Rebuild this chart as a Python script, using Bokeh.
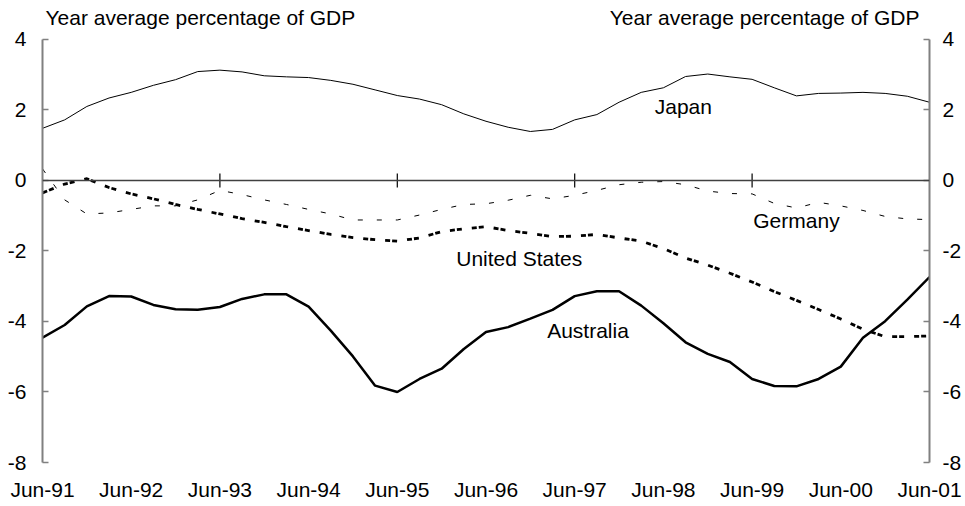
from bokeh.plotting import figure
from bokeh.models import Range1d, LinearAxis, FixedTicker, Label, Span
from bokeh.embed import file_html
from bokeh.resources import INLINE

# Quarterly observations, Jun-91 .. Jun-01 (41 quarters)
quarters = list(range(41))
tick_labels = ["Jun-91", "Jun-92", "Jun-93", "Jun-94", "Jun-95", "Jun-96",
               "Jun-97", "Jun-98", "Jun-99", "Jun-00", "Jun-01"]
zero_line_ticks = [8, 16, 24, 32]   # Jun-93, Jun-95, Jun-97, Jun-99

japan = [1.48, 1.72, 2.10, 2.34, 2.50, 2.70, 2.86, 3.09, 3.13, 3.08, 2.97,
         2.94, 2.92, 2.84, 2.73, 2.57, 2.41, 2.31, 2.15, 1.89, 1.68, 1.51,
         1.39, 1.45, 1.72, 1.87, 2.22, 2.50, 2.63, 2.95, 3.02, 2.94, 2.87,
         2.63, 2.40, 2.47, 2.48, 2.50, 2.47, 2.39, 2.22]
germany = [0.33, -0.55, -0.95, -0.92, -0.82, -0.72, -0.72, -0.55, -0.28, -0.40,
           -0.55, -0.68, -0.82, -0.95, -1.12, -1.12, -1.12, -0.98, -0.82, -0.68,
           -0.66, -0.56, -0.42, -0.52, -0.42, -0.28, -0.12, -0.05, -0.03, -0.12,
           -0.30, -0.37, -0.38, -0.65, -0.78, -0.62, -0.72, -0.85, -1.02, -1.09,
           -1.11]
united_states = [-0.35, -0.10, 0.05, -0.20, -0.38, -0.52, -0.68, -0.82, -0.95,
                 -1.08, -1.19, -1.31, -1.42, -1.53, -1.62, -1.68, -1.72, -1.63,
                 -1.45, -1.37, -1.31, -1.42, -1.50, -1.59, -1.58, -1.53, -1.63,
                 -1.72, -1.93, -2.20, -2.40, -2.63, -2.88, -3.15, -3.40, -3.66,
                 -3.93, -4.22, -4.43, -4.43, -4.41]
australia = [-4.46, -4.10, -3.57, -3.28, -3.29, -3.53, -3.65, -3.67, -3.59,
             -3.36, -3.23, -3.23, -3.58, -4.26, -4.99, -5.82, -6.00, -5.63,
             -5.34, -4.78, -4.30, -4.16, -3.92, -3.67, -3.28, -3.14, -3.14,
             -3.55, -4.05, -4.59, -4.92, -5.15, -5.63, -5.83, -5.84, -5.63,
             -5.28, -4.46, -3.99, -3.38, -2.74]

series_names = ["Japan", "Germany", "United States", "Australia"]
label_x = [28.9, 34.0, 21.5, 24.6]
label_y = [2.10, -1.13, -2.21, -4.26]

y_ticks = [-8, -6, -4, -2, 0, 2, 4]
y_tick_labels = ["-8", "-6", "-4", "-2", "0", "2", "4"]
axis_title = "Year average percentage of GDP"

FONT = "Liberation Sans"
FS = "21px"

p = figure(width=965, height=506, output_backend="svg", toolbar_location=None,
           x_range=Range1d(0, 40), y_range=Range1d(-8, 5.106),
           min_border_left=42, min_border_right=36, min_border_top=0,
           min_border_bottom=44, x_axis_location=None, y_axis_location=None)
p.outline_line_color = None
p.xgrid.visible = False
p.ygrid.visible = False
p.background_fill_color = "white"
p.border_fill_color = "white"


def style_y(ax, standoff):
    ax.ticker = FixedTicker(ticks=y_ticks)
    ax.major_label_overrides = dict(zip(y_ticks, y_tick_labels))
    ax.bounds = (-8, 4)
    ax.axis_line_color = "#808080"
    ax.axis_line_width = 2
    ax.major_tick_in = 6
    ax.major_tick_out = 0
    ax.major_tick_line_color = "#808080"
    ax.major_tick_line_width = 1.5
    ax.minor_tick_line_color = None
    ax.major_label_text_font = FONT
    ax.major_label_text_font_size = FS
    ax.major_label_text_color = "black"
    ax.major_label_standoff = standoff


left = LinearAxis()
style_y(left, 16)
p.add_layout(left, "left")
right = LinearAxis()
style_y(right, 13)
p.add_layout(right, "right")

# bottom labels only
bottom = LinearAxis()
bottom.ticker = FixedTicker(ticks=[4 * i for i in range(len(tick_labels))])
bottom.major_label_overrides = {4 * i: t for i, t in enumerate(tick_labels)}
bottom.axis_line_color = None
bottom.major_tick_line_color = None
bottom.major_tick_in = 0
bottom.major_tick_out = 0
bottom.minor_tick_line_color = None
bottom.minor_tick_out = 0
bottom.major_label_text_font = FONT
bottom.major_label_text_font_size = FS
bottom.major_label_text_color = "black"
bottom.major_label_standoff = 15
p.add_layout(bottom, "below")

# zero line with crossing ticks
p.add_layout(Span(location=0, dimension="width", line_color="#404040",
                  line_width=1.5))
p.segment(x0=zero_line_ticks, x1=zero_line_ticks,
          y0=[-0.2] * len(zero_line_ticks), y1=[0.2] * len(zero_line_ticks),
          line_color="black", line_width=1.2)

p.line(quarters, japan, line_color="black", line_width=1)
p.line(quarters, germany, line_color="black", line_width=1, line_dash="5 14")
p.line(quarters, united_states, line_color="black", line_width=2.8,
       line_dash="5 2 5 10")
p.line(quarters, australia, line_color="black", line_width=2.5)

for name, lx, ly in zip(series_names, label_x, label_y):
    p.add_layout(Label(x=lx, y=ly, text=name, text_align="center",
                       text_baseline="middle", text_font=FONT,
                       text_font_size=FS, text_color="black"))

p.add_layout(Label(x=0, y=4, text=axis_title, x_offset=3, y_offset=10,
                   text_align="left", text_baseline="bottom", text_font=FONT,
                   text_font_size=FS, text_color="black"))
p.add_layout(Label(x=40, y=4, text=axis_title, x_offset=-10, y_offset=10,
                   text_align="right", text_baseline="bottom", text_font=FONT,
                   text_font_size=FS, text_color="black"))

open("out.html", "w").write(file_html(p, INLINE))
